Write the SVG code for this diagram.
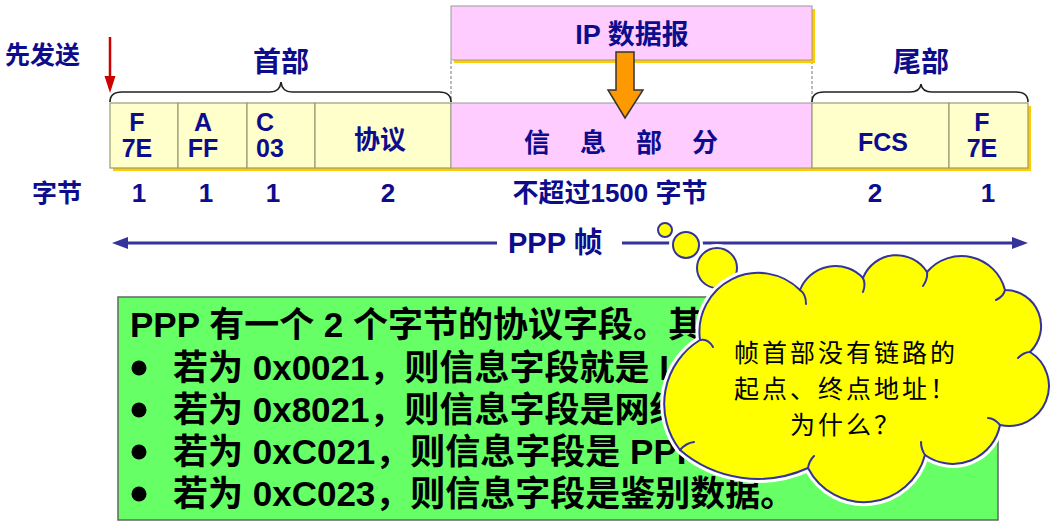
<svg xmlns="http://www.w3.org/2000/svg" width="1058" height="529" viewBox="0 0 1058 529">
<defs>
<style>
.lbl{font-family:"Liberation Sans","Noto Sans CJK SC",sans-serif;font-weight:bold;fill:#0c0c8c}
.mid{text-anchor:middle}
.cell{fill:#ffffcc;stroke:#999977;stroke-width:1.2}
.pink{fill:#ffccff;stroke:#999999;stroke-width:1}
.shadow{fill:#ffcc00}
.body{font-family:"Liberation Sans","Noto Sans CJK SC",sans-serif;font-weight:bold;font-size:35px;fill:#000}
.cloudtxt{font-family:"Noto Sans CJK SC","Liberation Sans",sans-serif;font-size:25px;letter-spacing:3px;fill:#000;text-anchor:middle}
.brace{fill:none;stroke:#222;stroke-width:1.6}
.bub{fill:#ffff00;stroke:#333399;stroke-width:2}
.halo{fill:none;stroke:#fff;stroke-width:8}
.tuck{fill:none;stroke:#333399;stroke-width:2;stroke-linecap:round}
</style>
</defs>
<rect width="1058" height="529" fill="#fff"/>

<g id="connectors">
  <line x1="110" y1="37" x2="110" y2="78" stroke="#cc0000" stroke-width="2.5"/>
  <polygon points="104.5,76 115.5,76 110,93" fill="#cc0000"/>
  <line x1="451" y1="61" x2="451" y2="102" stroke="#777" stroke-width="1" stroke-dasharray="3,2"/>
  <line x1="812" y1="61" x2="812" y2="102" stroke="#777" stroke-width="1" stroke-dasharray="3,2"/>
  <path class="brace" d="M110,102 Q110,92 122,92 L270,92 Q280,92 281,82 Q282,92 292,92 L439,92 Q451,92 451,102"/>
  <path class="brace" d="M812,102 Q812,92 824,92 L910,92 Q920,92 921,84 Q922,92 932,92 L1016,92 Q1028,92 1028,102"/>
  <line x1="124" y1="243" x2="497" y2="243" stroke="#333399" stroke-width="3"/>
  <polygon points="112,243 128,237 128,249" fill="#333399"/>
  <line x1="622" y1="243" x2="1016" y2="243" stroke="#333399" stroke-width="3"/>
  <polygon points="1028,243 1012,237 1012,249" fill="#333399"/>
</g>

<g id="labels">
  <text class="lbl" x="5" y="64" font-size="25">先发送</text>
  <text class="lbl mid" x="281" y="72" font-size="28">首部</text>
  <text class="lbl mid" x="921" y="72" font-size="28">尾部</text>
  <text class="lbl" x="32" y="202" font-size="25">字节</text>
  <text class="lbl mid" x="139" y="202" font-size="26">1</text>
  <text class="lbl mid" x="206" y="202" font-size="26">1</text>
  <text class="lbl mid" x="273" y="202" font-size="26">1</text>
  <text class="lbl mid" x="388" y="202" font-size="26">2</text>
  <text class="lbl mid" x="610" y="202" font-size="26">不超过1500 字节</text>
  <text class="lbl mid" x="875" y="202" font-size="26">2</text>
  <text class="lbl mid" x="988" y="202" font-size="26">1</text>
  <text class="lbl" x="508" y="253" font-size="29">PPP 帧</text>
</g>

<g id="ip-datagram">
  <rect class="shadow" x="454" y="9" width="361" height="54"/>
  <rect class="pink" x="451" y="6" width="361" height="54"/>
  <text class="lbl mid" x="632" y="44" font-size="27">IP 数据报</text>
</g>

<g id="frame">
  <rect class="shadow" x="113" y="106" width="918" height="65"/>
  <g id="cell-flag1">
    <rect class="cell" x="110" y="103" width="68" height="65"/>
    <text class="lbl mid" x="137" y="131" font-size="25">F</text>
    <text class="lbl mid" x="137" y="157" font-size="25">7E</text>
  </g>
  <g id="cell-address">
    <rect class="cell" x="178" y="103" width="69" height="65"/>
    <text class="lbl mid" x="203" y="131" font-size="25">A</text>
    <text class="lbl mid" x="203" y="157" font-size="25">FF</text>
  </g>
  <g id="cell-control">
    <rect class="cell" x="247" y="103" width="68" height="65"/>
    <text class="lbl" x="256" y="131" font-size="25">C</text>
    <text class="lbl" x="256" y="157" font-size="25">03</text>
  </g>
  <g id="cell-protocol">
    <rect class="cell" x="315" y="103" width="136" height="65"/>
    <text class="lbl mid" x="380" y="149" font-size="26">协议</text>
  </g>
  <g id="cell-info">
    <rect class="pink" x="451" y="103" width="361" height="65"/>
    <text class="lbl mid" x="537" y="152" font-size="26">信</text>
    <text class="lbl mid" x="593" y="152" font-size="26">息</text>
    <text class="lbl mid" x="649" y="152" font-size="26">部</text>
    <text class="lbl mid" x="705" y="152" font-size="26">分</text>
  </g>
  <g id="cell-fcs">
    <rect class="cell" x="812" y="103" width="137" height="65"/>
    <text class="lbl mid" x="883" y="151" font-size="25">FCS</text>
  </g>
  <g id="cell-flag2">
    <rect class="cell" x="949" y="103" width="79" height="65"/>
    <text class="lbl mid" x="982" y="131" font-size="25">F</text>
    <text class="lbl mid" x="982" y="157" font-size="25">7E</text>
  </g>
</g>

<g id="orange-arrow">
  <polygon points="616,52 634,52 634,90 643,90 625,118 608,90 616,90" fill="#ff9900" stroke="#333" stroke-width="1.5"/>
</g>

<g id="protocol-note">
  <rect x="118" y="297" width="880" height="223" fill="#66ff66" stroke="#666" stroke-width="1.5"/>
  <text class="body" x="130" y="337">PPP 有一个 2 个字节的协议字段。其</text>
  <circle cx="139" cy="368" r="7.5" fill="#000"/>
  <text class="body" x="173" y="380">若为 0x0021，则信息字段就是 I</text>
  <circle cx="139" cy="410" r="7.5" fill="#000"/>
  <text class="body" x="173" y="422">若为 0x8021，则信息字段是网络</text>
  <circle cx="139" cy="452" r="7.5" fill="#000"/>
  <text class="body" x="173" y="464">若为 0xC021，则信息字段是 PPP</text>
  <circle cx="139" cy="494" r="7.5" fill="#000"/>
  <text class="body" x="173" y="506">若为 0xC023，则信息字段是鉴别数据。</text>
</g>

<g id="thought-cloud">
  <circle cx="665" cy="230" r="7" class="halo"/>
  <circle cx="665" cy="230" r="7" class="bub"/>
  <circle cx="686" cy="245" r="13" class="halo"/>
  <circle cx="686" cy="245" r="13" class="bub"/>
  <circle cx="717" cy="268" r="20" class="halo"/>
  <circle cx="717" cy="268" r="20" class="bub"/>
  <path class="halo" d="M680,450 A75,75 0 0 1 700,340 A59,59 0 0 1 800,290 A38,38 0 0 1 863,278 A36,36 0 0 1 927,272 A45,45 0 0 1 1005,290 A36,36 0 0 1 1030,352 A40,40 0 0 1 1000,425 A48,48 0 0 1 925,455 A63,63 0 0 1 808,468 A120,120 0 0 1 680,450 Z"/>
  <path class="bub" d="M680,450 A75,75 0 0 1 700,340 A59,59 0 0 1 800,290 A38,38 0 0 1 863,278 A36,36 0 0 1 927,272 A45,45 0 0 1 1005,290 A36,36 0 0 1 1030,352 A40,40 0 0 1 1000,425 A48,48 0 0 1 925,455 A63,63 0 0 1 808,468 A120,120 0 0 1 680,450 Z"/>
  <path class="tuck" d="M700,340 Q708,338 713,347 M800,290 Q806,294 806,304 M863,278 Q866,284 863,292 M927,272 Q928,279 923,286 M1005,290 Q1004,296 996,300 M1030,352 Q1024,352 1018,358 M1000,425 Q994,418 988,418 M925,455 Q921,449 921,442 M808,468 Q809,461 814,456 M680,450 Q686,443 694,442"/>
  <text class="cloudtxt" x="846" y="362">帧首部没有链路的</text>
  <text class="cloudtxt" x="846" y="398">起点、终点地址！</text>
  <text class="cloudtxt" x="846" y="434">为什么？</text>
</g>
</svg>
